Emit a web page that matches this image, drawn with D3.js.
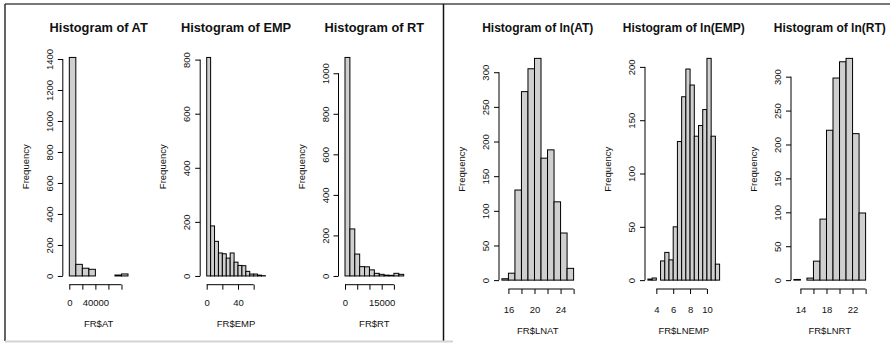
<!DOCTYPE html>
<html>
<head>
<meta charset="utf-8">
<script src="https://cdn.jsdelivr.net/npm/d3@7/dist/d3.min.js"></script>
<style>
  body { margin: 0; background: #fff; }
  svg { display: block; }
  text { font-family: "Liberation Sans", Arial, Helvetica, sans-serif; fill: #111; }
</style>
</head>
<body>
<svg id="chart" width="890" height="344"></svg>
<script>
// bin counts (one value per bin, left to right)
const atCounts = [1410, 75, 50, 43, 0, 0, 0, 6, 13];
const empCounts = [808, 185, 128, 85, 82, 66, 85, 51, 39, 38, 17, 7, 7, 3, 1];
const rtCounts = [1078, 232, 108, 46, 45, 30, 13, 8, 4, 3, 13, 8];
const lnAtCounts = [2, 10, 130, 272, 305, 320, 176, 188, 113, 68, 17];
const lnEmpCounts = [1, 2, 0, 18, 26, 19, 50, 130, 172, 198, 183, 135, 145, 160, 208, 135, 15];
const lnRtCounts = [1, 0, 3, 28, 90, 221, 298, 322, 327, 216, 99];

// first break and bin width of each histogram
const atBins = [0, 10000];
const empBins = [0, 5];
const rtBins = [0, 2000];
const lnAtBins = [15, 1];
const lnEmpBins = [3, 0.5];
const lnRtBins = [13, 1];

// axis ticks and the labels R kept (blank = dropped for overlap)
const atTicks = [0, 20000, 40000, 60000, 80000];
const atTickLabels = ['0', '', '40000', '', ''];
const empTicks = [0, 20, 40, 60];
const empTickLabels = ['0', '', '40', ''];
const rtTicks = [0, 5000, 10000, 15000, 20000];
const rtTickLabels = ['0', '', '', '15000', ''];
const lnAtTicks = [16, 18, 20, 22, 24, 26];
const lnAtTickLabels = ['16', '', '20', '', '24', ''];
const lnEmpTicks = [4, 6, 8, 10];
const lnEmpTickLabels = ['4', '6', '8', '10'];
const lnRtTicks = [14, 16, 18, 20, 22, 24];
const lnRtTickLabels = ['14', '', '18', '', '22', ''];

const atYTicks = [0, 200, 400, 600, 800, 1000, 1200, 1400];
const empYTicks = [0, 200, 400, 600, 800];
const rtYTicks = [0, 200, 400, 600, 800, 1000];
const lnAtYTicks = [0, 50, 100, 150, 200, 250, 300];
const lnEmpYTicks = [0, 50, 100, 150, 200];
const lnRtYTicks = [0, 50, 100, 150, 200, 250, 300];

const panels = [
  { title: 'Histogram of AT', xlab: 'FR$AT', counts: atCounts, bins: atBins, ticks: atTicks, labels: atTickLabels, yTicks: atYTicks, group: 0, col: 0 },
  { title: 'Histogram of EMP', xlab: 'FR$EMP', counts: empCounts, bins: empBins, ticks: empTicks, labels: empTickLabels, yTicks: empYTicks, group: 0, col: 1 },
  { title: 'Histogram of RT', xlab: 'FR$RT', counts: rtCounts, bins: rtBins, ticks: rtTicks, labels: rtTickLabels, yTicks: rtYTicks, group: 0, col: 2 },
  { title: 'Histogram of ln(AT)', xlab: 'FR$LNAT', counts: lnAtCounts, bins: lnAtBins, ticks: lnAtTicks, labels: lnAtTickLabels, yTicks: lnAtYTicks, group: 1, col: 0 },
  { title: 'Histogram of ln(EMP)', xlab: 'FR$LNEMP', counts: lnEmpCounts, bins: lnEmpBins, ticks: lnEmpTicks, labels: lnEmpTickLabels, yTicks: lnEmpYTicks, group: 1, col: 1 },
  { title: 'Histogram of ln(RT)', xlab: 'FR$LNRT', counts: lnRtCounts, bins: lnRtBins, ticks: lnRtTicks, labels: lnRtTickLabels, yTicks: lnRtYTicks, group: 1, col: 2 }
];

// the two screenshots have slightly different plot regions
const groups = [
  { lefts: [62.8, 200.2, 338.5], w: 71.7, gap: 6.5, top: 48.7, bottom: 284.7, tickDy: 21, xlabDy: 42, titleSize: 12.8 },
  { lefts: [499, 645, 791], w: 77.5, gap: 2.9, top: 49.5, bottom: 289, tickDy: 24, xlabDy: 45, titleSize: 12 }
];

const svg = d3.select('#chart');

// frames of the two pasted images
svg.append('line').attr('x1', 5).attr('x2', 890).attr('y1', 4).attr('y2', 4)
  .attr('stroke', '#4a4a4a').attr('stroke-width', 1.6);
svg.append('line').attr('x1', 5).attr('x2', 5).attr('y1', 4).attr('y2', 341)
  .attr('stroke', '#222').attr('stroke-width', 1.4);
svg.append('line').attr('x1', 443.5).attr('x2', 443.5).attr('y1', 4).attr('y2', 342)
  .attr('stroke', '#111').attr('stroke-width', 1.5);
svg.append('line').attr('x1', 5).attr('x2', 453).attr('y1', 341.5).attr('y2', 341.5)
  .attr('stroke', '#d4d4d4').attr('stroke-width', 2);

panels.forEach(p => {
  const gr = groups[p.group];
  const left = gr.lefts[p.col];
  const n = p.counts.length;
  const lo = p.bins[0];
  const hi = p.bins[0] + n * p.bins[1];
  const maxC = d3.max(p.counts);

  const x = d3.scaleLinear().domain([lo, hi]).range([left + gr.gap, left + gr.w - gr.gap]);
  const y = d3.scaleLinear().domain([-0.04 * maxC, 1.04 * maxC]).range([gr.bottom, gr.top]);

  const g = svg.append('g');

  g.append('g')
    .selectAll('rect')
    .data(p.counts)
    .enter().append('rect')
    .attr('x', (d, i) => x(lo + i * p.bins[1]))
    .attr('width', (d, i) => x(lo + (i + 1) * p.bins[1]) - x(lo + i * p.bins[1]))
    .attr('y', d => y(d))
    .attr('height', d => y(0) - y(d))
    .attr('fill', '#cfcfcf')
    .attr('stroke', '#000')
    .attr('stroke-width', 1);

  const t = p.ticks;
  g.append('g')
    .attr('transform', 'translate(0,' + gr.bottom + ')')
    .call(d3.axisBottom(x).tickValues(t).tickSize(5)
      .tickFormat((d, i) => p.labels[i]))
    .call(a => a.attr('font-size', null).attr('font-family', null))
    .call(a => a.select('.domain').attr('d', 'M' + x(t[0]) + ',0H' + x(t[t.length - 1])))
    .call(a => a.selectAll('.tick text').attr('font-size', 9.5).attr('dy', null).attr('y', gr.tickDy));

  const yt = p.yTicks;
  g.append('g')
    .attr('transform', 'translate(' + left + ',0)')
    .call(d3.axisLeft(y).tickValues(yt).tickSize(5).tickFormat(d3.format('d')))
    .call(a => a.attr('font-size', null).attr('font-family', null))
    .call(a => a.select('.domain').attr('d', 'M0,' + y(yt[0]) + 'V' + y(yt[yt.length - 1])))
    .call(a => a.selectAll('.tick text')
      .attr('x', null).attr('dy', null)
      .attr('text-anchor', 'middle')
      .attr('font-size', 9.5)
      .attr('transform', 'translate(-10,0) rotate(-90)'));

  g.append('text')
    .attr('transform', 'translate(' + (left - 34) + ',' + ((gr.top + gr.bottom) / 2) + ') rotate(-90)')
    .attr('text-anchor', 'middle')
    .attr('font-size', 9.5)
    .text('Frequency');

  g.append('text')
    .attr('x', left + gr.w / 2)
    .attr('y', gr.bottom + gr.xlabDy)
    .attr('text-anchor', 'middle')
    .attr('font-size', 9.5)
    .text(p.xlab);

  g.append('text')
    .attr('x', left + gr.w / 2)
    .attr('y', 32)
    .attr('text-anchor', 'middle')
    .attr('font-size', gr.titleSize)
    .attr('font-weight', 'bold')
    .text(p.title);
});
</script>
</body>
</html>
